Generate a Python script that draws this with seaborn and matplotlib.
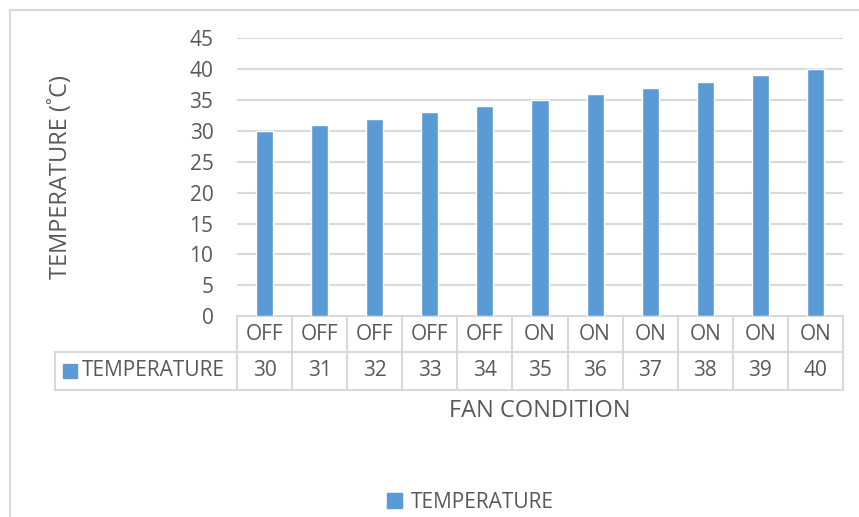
import matplotlib
matplotlib.use("Agg")
import matplotlib.pyplot as plt
from matplotlib.patches import Rectangle
import pandas as pd
import seaborn as sns

fan_condition = ["OFF", "OFF", "OFF", "OFF", "OFF", "ON", "ON", "ON", "ON", "ON", "ON"]
temperature = [30, 31, 32, 33, 34, 35, 36, 37, 38, 39, 40]
series_name = "TEMPERATURE"

bar_col = "#5B9BD5"
grid_col = "#D9D9D9"
txt_col = "#595959"
fs = 15
fs_title = 17

sns.set_theme(style="white")
plt.rcParams["font.family"] = ["Open Sans", "DejaVu Sans"]

df = pd.DataFrame({"pos": [str(i) for i in range(len(temperature))],
                   "temp": temperature})

fig = plt.figure(figsize=(8.59, 5.17), dpi=100)
W, H = 859, 517
ax = fig.add_axes([237 / W, 1 - 316 / H, (843 - 237) / W, (316 - 38.5) / H])

sns.barplot(data=df, x="pos", y="temp", color=bar_col, width=0.31,
            saturation=1, ax=ax, zorder=3)
ax.set_xlim(-0.5, len(temperature) - 0.5)
ax.set_ylim(0, 45)
ax.set_yticks(range(0, 46, 5))
ax.tick_params(axis="y", length=0, pad=17, labelsize=fs, labelcolor=txt_col)
ax.set_xticks([])
ax.yaxis.grid(True, color=grid_col, lw=1.5, zorder=0)
for s in ax.spines.values():
    s.set_visible(False)

ax.set_ylabel("TEMPERATURE (˚C)", fontsize=fs_title, color=txt_col, va="center")
ax.yaxis.set_label_coords((61 - 237) / 606, (316 - 177) / 277.5)
ax.set_xlabel("FAN CONDITION", fontsize=fs_title, color=txt_col, va="center")
ax.xaxis.set_label_coords(0.5, (316 - 411) / 277.5)

# data table under the axis
r1 = (316 - 352) / 277.5
r2 = (316 - 390) / 277.5
xt = ax.get_xaxis_transform()
n = len(temperature)
lkw = dict(color=grid_col, lw=1.5, clip_on=False, zorder=1)
ax.plot([-0.5, n - 0.5], [0, 0], transform=xt, **lkw)
leg_left = (55 - 237) / 606
for yy in (r1, r2):
    ax.plot([leg_left, 1], [yy, yy], transform=ax.transAxes, **lkw)
ax.plot([leg_left, leg_left], [r1, r2], transform=ax.transAxes, **lkw)
for i in range(n + 1):
    ax.plot([i - 0.5, i - 0.5], [0, r2], transform=xt, **lkw)
for i, (c, v) in enumerate(zip(fan_condition, temperature)):
    ax.text(i, r1 / 2, c, transform=xt, ha="center", va="center",
            fontsize=fs, color=txt_col)
    ax.text(i, (r1 + r2) / 2, str(v), transform=xt, ha="center", va="center",
            fontsize=fs, color=txt_col)
ax.add_patch(Rectangle(((63 - 237) / 606, (r1 + r2) / 2 - 7 / 277.5),
                       14 / 606, 14 / 277.5, transform=ax.transAxes,
                       color=bar_col, clip_on=False))
ax.text((82 - 237) / 606, (r1 + r2) / 2, series_name, transform=ax.transAxes,
        ha="left", va="center", fontsize=fs, color=txt_col)

# bottom legend
h = Rectangle((0, 0), 1, 1, color=bar_col)
fig.legend([h], [series_name], loc="center", bbox_to_anchor=(470 / W, 1 - 502 / H),
           frameon=False, fontsize=fs, handlelength=0.75, handleheight=0.75,
           handletextpad=0.4, labelcolor=txt_col)

# chart border
fig.patches.append(Rectangle((10 / W, -0.1), 1.2, 1 - 10 / H + 0.1,
                             transform=fig.transFigure, fill=False,
                             ec=grid_col, lw=1.5))

fig.savefig("out.png", dpi=100, facecolor="white")
